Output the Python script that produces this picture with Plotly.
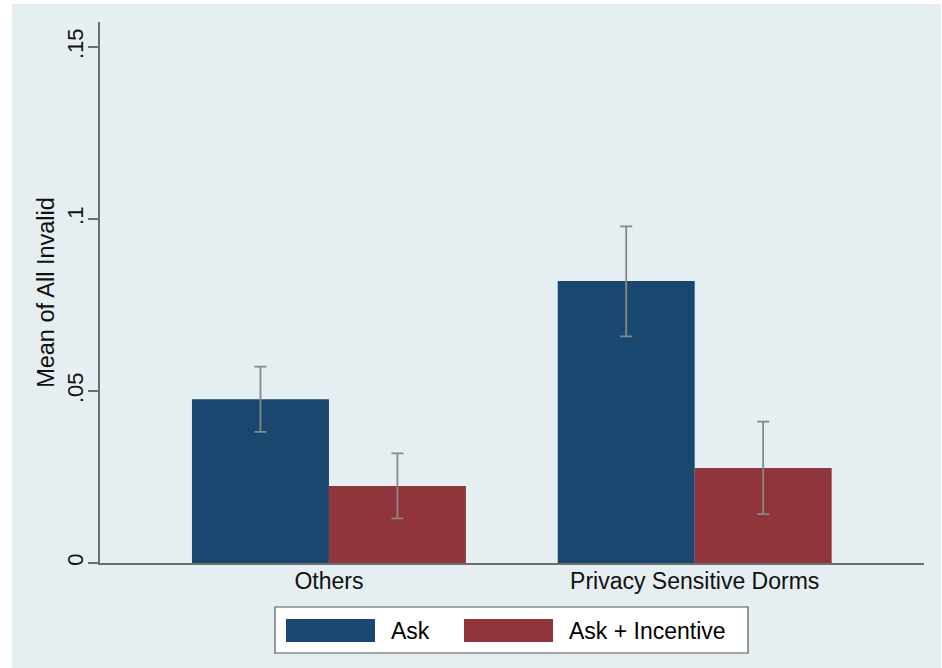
import plotly.graph_objects as go

# ---- data ----
categories = ["Others", "Privacy Sensitive Dorms"]
series_names = ["Ask", "Ask + Incentive"]
ask_mean = [0.0476, 0.0820]
ask_upper = [0.0571, 0.0979]
ask_lower = [0.0381, 0.0659]
inc_mean = [0.0224, 0.0276]
inc_upper = [0.0319, 0.0411]
inc_lower = [0.0130, 0.0142]
y_tickvals = [0, 0.05, 0.1, 0.15]
y_ticktext = ["0", ".05", ".1", ".15"]
y_title = "Mean of All Invalid"

# ---- style ----
W, H = 942, 668
L, R, T, B = 100, 924, 22, 563  # plot area pixel box
NAVY = "#1a476f"
MAROON = "#90353b"
BG = "#e5eef0"
GRID = "#e5eef0"
AXIS = "#6e6e6e"
ERR = "#888888"
FONT = "Liberation Sans, Arial, Helvetica, sans-serif"

def px_x(p):
    return (p - L) / (R - L)

def px_y(p):
    return (B - p) / (B - T)

fig = go.Figure()
for name, mean, up, lo, col in [
    (series_names[0], ask_mean, ask_upper, ask_lower, NAVY),
    (series_names[1], inc_mean, inc_upper, inc_lower, MAROON),
]:
    fig.add_trace(go.Bar(
        name=name, x=categories, y=mean,
        marker=dict(color=col, line=dict(width=0)),
        error_y=dict(type="data", symmetric=False,
                     array=[u - m for u, m in zip(up, mean)],
                     arrayminus=[m - l for m, l in zip(mean, lo)],
                     color=ERR, thickness=1.8, width=6),
        showlegend=False,
    ))

shapes = [
    # outer light background panel
    dict(type="rect", xref="paper", yref="paper", layer="below",
         x0=px_x(12), x1=px_x(941), y0=px_y(668), y1=px_y(4),
         fillcolor=BG, line=dict(width=0)),
    # legend box
    dict(type="rect", xref="paper", yref="paper",
         x0=px_x(275), x1=px_x(748), y0=px_y(653), y1=px_y(607),
         fillcolor="white", line=dict(color="#555555", width=1.2)),
    dict(type="rect", xref="paper", yref="paper",
         x0=px_x(286), x1=px_x(375), y0=px_y(642), y1=px_y(619),
         fillcolor=NAVY, line=dict(width=0)),
    dict(type="rect", xref="paper", yref="paper",
         x0=px_x(464), x1=px_x(553), y0=px_y(642), y1=px_y(619),
         fillcolor=MAROON, line=dict(width=0)),
]
annotations = [
    dict(xref="paper", yref="paper", x=px_x(389), y=px_y(631),
         text=series_names[0], showarrow=False, xanchor="left", yanchor="middle",
         font=dict(size=23, color="black", family=FONT)),
    dict(xref="paper", yref="paper", x=px_x(567), y=px_y(631),
         text=series_names[1], showarrow=False, xanchor="left", yanchor="middle",
         font=dict(size=23, color="black", family=FONT)),
]

fig.update_layout(
    width=W, height=H,
    margin=dict(l=L, r=W - R, t=T, b=H - B, pad=0),
    paper_bgcolor="white", plot_bgcolor="white",
    barmode="group", bargap=0.251, bargroupgap=0,
    font=dict(family=FONT, color="black", size=23),
    shapes=shapes, annotations=annotations,
    xaxis=dict(range=[-0.626, 1.627], showline=True, linecolor=AXIS, linewidth=1.5,
               ticks="", showgrid=False, zeroline=False, ticklabelstandoff=-3,
               tickfont=dict(size=23, color="#111111")),
    yaxis=dict(range=[0, 0.1573], tickvals=y_tickvals, ticktext=y_ticktext,
               tickangle=-90, ticks="outside", ticklen=10, tickwidth=1.5,
               tickcolor=AXIS, showline=True, linecolor=AXIS, linewidth=1.5,
               showgrid=True, gridcolor=GRID, gridwidth=1.5, zeroline=False,
               ticklabelstandoff=-4,
               tickfont=dict(size=22, color="#111111"),
               title=dict(text=y_title, font=dict(size=23.5, color="#111111"), standoff=2)),
)

fig.write_html("out.html")
